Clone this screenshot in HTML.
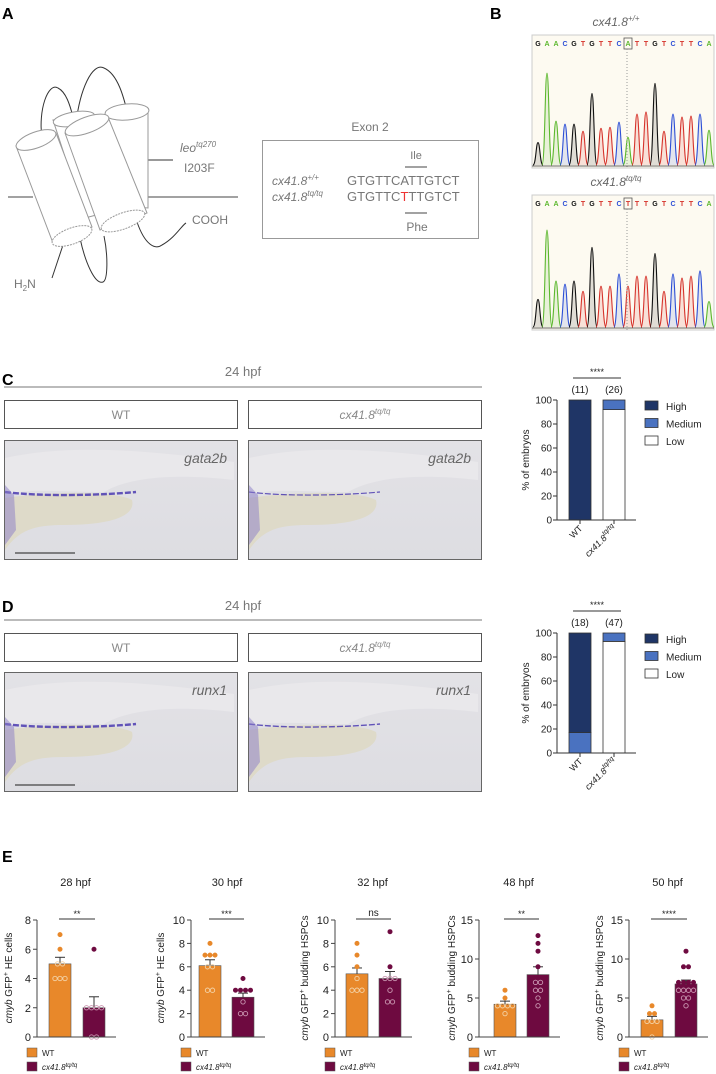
<!DOCTYPE html>
<html><head><meta charset="utf-8"><style>
html,body{margin:0;padding:0;background:#fff;}
svg{display:block;font-family:"Liberation Sans",sans-serif;}
</style></head><body>
<svg id="fig" width="716" height="1074" viewBox="0 0 716 1074" xmlns="http://www.w3.org/2000/svg">
<defs>
<linearGradient id="bgC" x1="0" y1="0" x2="0" y2="1"><stop offset="0" stop-color="#e3e2e6"/><stop offset="1" stop-color="#dddde2"/></linearGradient>
</defs>
<g font-weight="bold" font-size="16" fill="#000">
<text x="2" y="19">A</text><text x="490" y="19">B</text><text x="2" y="385">C</text><text x="2" y="612">D</text><text x="2" y="862">E</text>
</g>

<g fill="none" stroke-width="1">
<line x1="8" y1="197" x2="33" y2="197" stroke="#444"/>
<line x1="148" y1="197" x2="238" y2="197" stroke="#444"/>
<path d="M42,138 C38,110 48,82 58,88 C66,92 70,105 73,117" stroke="#333"/>
<path d="M76,123 C80,90 92,62 104,68 C118,74 124,98 128,115" stroke="#333"/>
<path d="M80,238 C85,262 95,285 103,282 C108,280 108,255 104,236" stroke="#333"/>
<path d="M137,222 C145,245 155,250 162,245 C175,238 182,225 186,223" stroke="#333"/>
<path d="M64,242 L52,278" stroke="#333"/>
<line x1="138" y1="160" x2="173" y2="160" stroke="#333"/>
<g stroke="#999" fill="#fff">
<path d="M105,118 L108,205 L148,208 L148,112 Z"/>
<ellipse cx="127" cy="112" rx="22" ry="8" transform="rotate(-5 127 112)"/>
<path d="M53,120 L85,218 L100,214 L95,117 Z"/>
<ellipse cx="74" cy="119" rx="21" ry="7" transform="rotate(-10 74 119)"/>
<path d="M16,146 L53,243 L92,227 L56,133 Z"/>
<ellipse cx="36" cy="140" rx="21" ry="8" transform="rotate(-20 36 140)"/>
<path d="M65,133 L100,230 L147,213 L108,117 Z"/>
<ellipse cx="87" cy="125" rx="23" ry="8" transform="rotate(-20 87 125)"/>
<ellipse cx="123" cy="221" rx="23" ry="8" transform="rotate(-20 123 221)" stroke-dasharray="2 1"/>
<ellipse cx="72" cy="236" rx="21" ry="8" transform="rotate(-20 72 236)" stroke-dasharray="2 1"/>
</g>
</g>
<g fill="#777" font-size="12">
<text x="180" y="152" font-style="italic">leo<tspan font-size="8" dy="-5">tq270</tspan></text>
<text x="184" y="172">I203F</text>
<text x="192" y="224">COOH</text>
<text x="14" y="288">H<tspan font-size="8" dy="3">2</tspan><tspan dy="-3">N</tspan></text>
</g>
<g>
<text x="370" y="131" text-anchor="middle" font-size="12" fill="#777">Exon 2</text>
<rect x="262.5" y="140.5" width="216" height="98" fill="none" stroke="#999"/>
<text x="416" y="159" text-anchor="middle" font-size="11" fill="#777">Ile</text>
<line x1="405" y1="167" x2="427" y2="167" stroke="#444"/>
<text x="272" y="185" font-size="12" fill="#777" font-style="italic">cx41.8<tspan font-size="8" dy="-5">+/+</tspan></text>
<text x="272" y="201" font-size="12" fill="#777" font-style="italic">cx41.8<tspan font-size="8" dy="-5">tq/tq</tspan></text>
<text x="347" y="185" font-size="13" fill="#777">GTGTTCATTGTCT</text>
<text x="347" y="201" font-size="13" fill="#777">GTGTTC<tspan fill="#e33">T</tspan>TTGTCT</text>
<line x1="405" y1="213" x2="427" y2="213" stroke="#444"/>
<text x="417" y="231" text-anchor="middle" font-size="12" fill="#777">Phe</text>
</g>

<g id="chromo">
<text x="616" y="26" text-anchor="middle" font-size="12" fill="#666" font-style="italic">cx41.8<tspan font-size="8" dy="-5">+/+</tspan></text>
<text x="616" y="186" text-anchor="middle" font-size="12" fill="#666" font-style="italic">cx41.8<tspan font-size="8" dy="-5">tq/tq</tspan></text>
</g>

<g>
<text x="243" y="376" text-anchor="middle" font-size="13" fill="#777">24 hpf</text>
<line x1="4" y1="387" x2="482" y2="387" stroke="#777"/>
<rect x="4.5" y="400.5" width="233" height="28" fill="#fff" stroke="#555"/>
<rect x="248.5" y="400.5" width="233" height="28" fill="#fff" stroke="#555"/>
<text x="121" y="419" text-anchor="middle" font-size="12" fill="#888">WT</text>
<text x="365" y="419" text-anchor="middle" font-size="12" fill="#888" font-style="italic">cx41.8<tspan font-size="8" dy="-5">tq/tq</tspan></text>
</g>
<g>
<text x="243" y="610" text-anchor="middle" font-size="13" fill="#777">24 hpf</text>
<line x1="4" y1="620" x2="482" y2="620" stroke="#777"/>
<rect x="4.5" y="633.5" width="233" height="28" fill="#fff" stroke="#555"/>
<rect x="248.5" y="633.5" width="233" height="28" fill="#fff" stroke="#555"/>
<text x="121" y="652" text-anchor="middle" font-size="12" fill="#888">WT</text>
<text x="365" y="652" text-anchor="middle" font-size="12" fill="#888" font-style="italic">cx41.8<tspan font-size="8" dy="-5">tq/tq</tspan></text>
</g>
<g id="imgs"></g>

<g id="stackC"></g><g id="stackD"></g>
<g id="panelE"></g>
</svg>
<script>
const NS='http://www.w3.org/2000/svg';
function mk(tag,attrs,parent,txt){const e=document.createElementNS(NS,tag);for(const k in attrs)e.setAttribute(k,attrs[k]);if(txt!==undefined)e.textContent=txt;parent.appendChild(e);return e;}

const seqWT="GAACGTGTTCATTGTCTTCA";
const peaksWT=[22,90,43,40,40,33,70,36,37,42,27,50,52,80,33,50,47,48,50,34];
const seqMut="GAACGTGTTCTTTGTCTTCA";
const peaksMut=[27,95,45,42,45,35,78,40,40,52,40,50,50,72,35,52,48,50,55,25];
const baseColors={G:'#111',A:'#5cb82e',C:'#2d4fd6',T:'#d6342c'};
const chromo=document.getElementById('chromo');
function drawChromo(seq,peaks,top,bottom,boxIdx,name){
  const g=mk('g',{},chromo);
  
  
  mk('rect',{x:532,y:top,width:182,height:bottom-top,fill:'#fdfaf1',stroke:'#ccc'},g);
  const x0=538,dx=9;
  for(let i=0;i<seq.length;i++){
    const c=seq[i],x=x0+i*dx;
    mk('text',{x:x,y:top+11,'text-anchor':'middle','font-size':7,'font-weight':'bold',fill:baseColors[c]},g,c);
    const h=peaks[i]*1.02,b=bottom-3,w=5;
    mk('path',{d:`M${x-w},${b} C${x-2},${b} ${x-2},${b-h} ${x},${b-h} C${x+2},${b-h} ${x+2},${b} ${x+w},${b}`,fill:baseColors[c],'fill-opacity':0.12,stroke:baseColors[c],'stroke-width':1.1},g);
  }
  mk('rect',{x:x0+boxIdx*dx-4,y:top+3,width:8,height:11,fill:'none',stroke:'#555','stroke-width':0.8},g);
  mk('line',{x1:x0+boxIdx*dx-1,y1:top+14,x2:x0+boxIdx*dx-1,y2:bottom,stroke:'#999','stroke-dasharray':'1 2'},g);
  mk('line',{x1:532,y1:bottom-2,x2:714,y2:bottom-2,stroke:'#333','stroke-width':0.8},g);
}
drawChromo(seqWT,peaksWT,35,168,10,'chromatogram-wt');
drawChromo(seqMut,peaksMut,195,330,10,'chromatogram-mutant');

const imgs=document.getElementById('imgs');
function embryo(x,y,label,stain,name){
  const g=mk('g',{},imgs);
  
  
  mk('rect',{x:x+0.5,y:y+0.5,width:233,height:119,fill:'url(#bgC)',stroke:'#666'},g);
  mk('path',{d:`M${x+1},${y+18} C${x+60},${y+5} ${x+130},${y+8} ${x+230},${y+22} L${x+230},${y+40} C${x+160},${y+32} ${x+120},${y+40} ${x+100},${y+52} C${x+60},${y+52} ${x+20},${y+48} ${x+1},${y+55} Z`,fill:'#e9e8eb'},g);
  mk('path',{d:`M${x+1},${y+58} C${x+40},${y+52} ${x+110},${y+50} ${x+128},${y+60} C${x+132},${y+75} ${x+110},${y+85} ${x+60},${y+85} C${x+30},${y+85} ${x+15},${y+90} ${x+1},${y+110} Z`,fill:'#dedac9'},g);
  mk('path',{d:`M${x+1},${y+52} C${x+40},${y+57} ${x+100},${y+55} ${x+132},${y+52}`,fill:'none',stroke:'#4a3ab0','stroke-width':stain,'stroke-dasharray':'6 2','stroke-opacity':0.85},g);
  mk('path',{d:`M${x+1},${y+45} L${x+10},${y+55} L${x+12},${y+90} L${x+1},${y+105} Z`,fill:'#8a7cc8','fill-opacity':0.5},g);
  mk('text',{x:x+223,y:y+23,'text-anchor':'end','font-size':14,'font-style':'italic',fill:'#666'},g,label);
}
embryo(4,440,'gata2b',2.4,'image-wt-gata2b');
embryo(248,440,'gata2b',1.2,'image-mut-gata2b');
embryo(4,672,'runx1',2.4,'image-wt-runx1');
embryo(248,672,'runx1',1.4,'image-mut-runx1');
[[15,553,60],[15,785,60]].forEach(s=>{const l=mk('line',{x1:s[0],y1:s[1],x2:s[0]+s[2],y2:s[1],stroke:'#444','stroke-width':1.2},imgs);});

const stackCats=["WT","cx41.8"];
const stackLevels=["High","Medium","Low"];
const stackColors=["#1f3566","#4a72c0","#ffffff"];
const cHigh=[100,0], cMedium=[0,8], cLow=[0,92], cN=["(11)","(26)"];
const dHigh=[83,0], dMedium=[17,7], dLow=[0,93], dN=["(18)","(47)"];
const stackTicks=[0,20,40,60,80,100];
function stacked(gid,y0,high,med,low,ns,pref){
  const g=document.getElementById(gid);
  
  
  const ax=557,ytop=y0-120;
  const ys=v=>y0-v/100*120;
  const centers=[580,614];
  for(let i=0;i<2;i++){
    let base=0;
    const stack=[[low[i],2],[med[i],1],[high[i],0]];
    stack.forEach(([v,ci])=>{
      if(v<=0)return;
      const r=mk('rect',{x:centers[i]-11,y:ys(base+v),width:22,height:ys(base)-ys(base+v),fill:stackColors[ci],stroke:'#333','stroke-width':0.8},g);
      
      
      base+=v;
    });
    const t=mk('text',{x:centers[i],y:ytop-7,'text-anchor':'middle','font-size':10,fill:'#222'},g,ns[i]);
    
    
    mk('line',{x1:centers[i],y1:y0,x2:centers[i],y2:y0+4,stroke:'#333'},g);
  }
  mk('line',{x1:ax,y1:ytop,x2:ax,y2:y0,stroke:'#333'},g);
  mk('line',{x1:ax,y1:y0,x2:636,y2:y0,stroke:'#333'},g);
  stackTicks.forEach(v=>{
    mk('line',{x1:ax-4,y1:ys(v),x2:ax,y2:ys(v),stroke:'#333'},g);
    mk('text',{x:ax-5,y:ys(v)+3.5,'text-anchor':'end','font-size':10,fill:'#222'},g,v);
  });
  const yt=mk('text',{x:0,y:0,transform:`translate(529 ${y0-60}) rotate(-90)`,'text-anchor':'middle','font-size':10,fill:'#222'},g,'% of embryos');
  
  
  mk('text',{x:0,y:0,transform:`translate(${centers[0]+3} ${y0+9}) rotate(-45)`,'text-anchor':'end','font-size':9,fill:'#222'},g,'WT');
  const xl=mk('text',{x:0,y:0,transform:`translate(${centers[1]+3} ${y0+9}) rotate(-45)`,'text-anchor':'end','font-size':9,fill:'#222','font-style':'italic'},g);
  xl.innerHTML='cx41.8<tspan font-size="7" dy="-4">tq/tq</tspan>';
  mk('line',{x1:573,y1:ytop-22,x2:621,y2:ytop-22,stroke:'#333'},g);
  mk('text',{x:597,y:ytop-25,'text-anchor':'middle','font-size':9,fill:'#222'},g,'****');
  stackLevels.forEach((lv,k)=>{
    const r=mk('rect',{x:645,y:ytop+1+k*17.5,width:13,height:9,fill:stackColors[k],stroke:'#333','stroke-width':0.8},g);
    
    
    mk('text',{x:666,y:ytop+10+k*17.5,'font-size':10,fill:'#222'},g,lv);
  });
}
stacked('stackC',520,cHigh,cMedium,cLow,cN,'panel-c');
stacked('stackD',753,dHigh,dMedium,dLow,dN,'panel-d');

const eTitles=["28 hpf","30 hpf","32 hpf","48 hpf","50 hpf"];
const eSig=["**","***","ns","**","****"];
const eMax=[8,10,10,15,15];
const eTicks=[[0,2,4,6,8],[0,2,4,6,8,10],[0,2,4,6,8,10],[0,5,10,15],[0,5,10,15]];
const eYTitle=["HE cells","HE cells","budding HSPCs","budding HSPCs","budding HSPCs"];
const wtMean=[5.0,6.1,5.4,4.2,2.2];
const wtSem=[0.45,0.5,0.5,0.4,0.45];
const mutMean=[2.0,3.4,5.0,8.0,6.8];
const mutSem=[0.75,0.35,0.6,1.0,0.5];
const wtPts=[[7,6,5,5,4,4,4],[8,7,7,7,6,6,4,4],[8,7,6,5,4,4,4],[6,5,4,4,4,4,3],[4,3,3,2,2,2,0]];
const mutPts=[[6,2,2,2,2,0,0],[5,4,4,4,4,3,2,2],[9,6,5,5,5,4,3,3],[13,12,11,9,7,7,6,6,5,4],[11,9,9,7,7,7,7,6,6,6,6,5,5,4]];
const axX=[37,191,335,479,629], wtC=[60,210,357,505,652], mutC=[94,243,390,538,686], yTitleX=[12,164,308,455,603];
const WTC='#e8882a', MUTC='#6e0a40';
const E=document.getElementById('panelE');
for(let c=0;c<5;c++){
  const g=mk('g',{},E);
  
  
  const y0=1037, y1=920;
  const ys=v=>y0-v/eMax[c]*(y0-y1);
  const t=mk('text',{x:(axX[c]+mutC[c]+20)/2,y:886,'text-anchor':'middle','font-size':11,fill:'#222'},g,eTitles[c]);
  
  
  const groups=[[wtMean[c],wtSem[c],wtPts[c],wtC[c],WTC,'wt'],[mutMean[c],mutSem[c],mutPts[c],mutC[c],MUTC,'mutant']];
  groups.forEach(([m,s,pts,cx,col,nm])=>{
    const b=mk('rect',{x:cx-11,y:ys(m),width:22,height:y0-ys(m),fill:col,stroke:'#555','stroke-width':0.6},g);
    
    
    mk('line',{x1:cx,y1:ys(m),x2:cx,y2:ys(m+s),stroke:'#333'},g);
    mk('line',{x1:cx-5,y1:ys(m+s),x2:cx+5,y2:ys(m+s),stroke:'#333'},g);
    const cnt={};pts.forEach(v=>cnt[v]=(cnt[v]||0)+1);
    const seen={};
    pts.forEach(v=>{
      const k=seen[v]||0;seen[v]=k+1;
      const n=cnt[v];
      const px=cx+(k-(n-1)/2)*5;
      const inside=v<=m;
      const d=mk('circle',{cx:px,cy:ys(v),r:2.2,fill:inside?'none':col,stroke:inside?'#f3d2a6':col,'stroke-width':inside?0.9:0.6},g);
      if(inside&&col===MUTC)d.setAttribute('stroke','#c996b0');
      
      
    });
  });
  mk('line',{x1:axX[c],y1:y1,x2:axX[c],y2:y0,stroke:'#444'},g);
  mk('line',{x1:axX[c],y1:y0,x2:mutC[c]+22,y2:y0,stroke:'#444'},g);
  eTicks[c].forEach(v=>{
    mk('line',{x1:axX[c]-4,y1:ys(v),x2:axX[c],y2:ys(v),stroke:'#444'},g);
    mk('text',{x:axX[c]-6,y:ys(v)+4,'text-anchor':'end','font-size':11,fill:'#222'},g,v);
  });
  mk('line',{x1:wtC[c]-1,y1:919,x2:mutC[c]+1,y2:919,stroke:'#333'},g);
  mk('text',{x:(wtC[c]+mutC[c])/2,y:eSig[c]==='ns'?916:917,'text-anchor':'middle','font-size':eSig[c]==='ns'?10:9,fill:'#222'},g,eSig[c]);
  const yt=mk('text',{x:0,y:0,transform:`translate(${yTitleX[c]} 978) rotate(-90)`,'text-anchor':'middle','font-size':10,fill:'#222'},g);
  yt.innerHTML='<tspan font-style="italic">cmyb</tspan> GFP<tspan font-size="7" dy="-4">+</tspan><tspan dy="4"> '+eYTitle[c]+'</tspan>';
  
  
  const lx=axX[c]-10;
  const l1=mk('rect',{x:lx,y:1048,width:10,height:9,fill:WTC,stroke:'#555','stroke-width':0.5},g);
  
  
  mk('text',{x:lx+15,y:1056,'font-size':8,fill:'#222'},g,'WT');
  const l2=mk('rect',{x:lx,y:1062,width:10,height:9,fill:MUTC,stroke:'#555','stroke-width':0.5},g);
  
  
  const lt=mk('text',{x:lx+15,y:1070,'font-size':8,fill:'#222','font-style':'italic'},g);
  lt.innerHTML='cx41.8<tspan font-size="6" dy="-3">tq/tq</tspan>';
}
</script>
</body></html>
